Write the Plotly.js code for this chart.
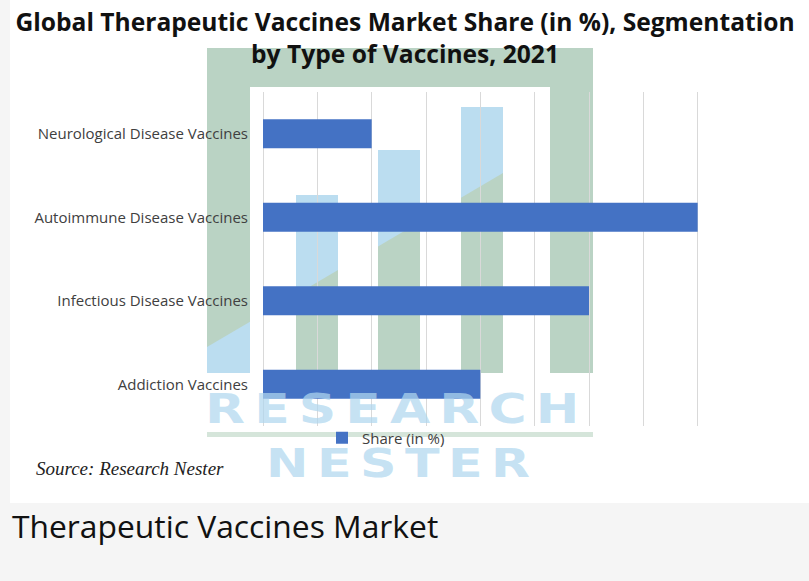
<!DOCTYPE html>
<html>
<head>
<meta charset="utf-8">
<script src="https://cdn.plot.ly/plotly-3.0.1.min.js"></script>
<style>
  html, body { margin:0; padding:0; background:#f5f5f5; width:809px; height:581px; overflow:hidden; }
  #wrap { position:absolute; left:10px; top:0; width:799px; height:503px; background:#fff; }
  #chart { position:absolute; left:0; top:0; width:799px; height:503px; }
  .wm { position:absolute; color:rgba(176,215,239,0.72); font-family:"DejaVu Sans", sans-serif; font-weight:bold; pointer-events:none; white-space:nowrap; transform-origin:0 0; transform:scaleX(1.3); }
  #caption { position:absolute; left:12px; top:504px; font-family:"Open Sans", sans-serif; font-size:31.8px; color:#111; white-space:nowrap; }
</style>
</head>
<body>
<div id="wrap"><div id="chart"></div></div>
<div class="wm" id="wm1" style="left:205px; top:394px; font-size:40px; line-height:30px; letter-spacing:7px;">RESEARCH</div>
<div class="wm" id="wm2" style="left:266px; top:449px; font-size:39px; line-height:29px; letter-spacing:6.5px;">NESTER</div>
<div id="caption">Therapeutic Vaccines Market</div>
<script>
// ---- data ----
const categories = ["Neurological Disease Vaccines", "Autoimmune Disease Vaccines", "Infectious Disease Vaccines", "Addiction Vaccines"];
const shareValues = [10, 40, 30, 20];
const seriesName = "Share (in %)";
const chartTitle = "Global Therapeutic Vaccines Market Share (in %), Segmentation<br>by Type of Vaccines, 2021";
const sourceText = "Source: Research Nester";

// ---- geometry helpers for the watermark (page px -> paper) ----
const DIV_LEFT = 10, DIV_W = 799, DIV_H = 503, ML = 253, MT = 92, PW = 489, PH = 334;
const px = x => (x - DIV_LEFT - ML) / PW;
const py = y => (MT + PH - y) / PH;
const GREEN = "#bad3c4", BLUE = "#bbddf0";
const diag = x => 347 - 0.588 * (x - 207);

const shapes = [];
function rect(x0, y0, x1, y1, c) {
  shapes.push({type:"rect", xref:"paper", yref:"paper", x0:px(x0), x1:px(x1), y0:py(y1), y1:py(y0),
    fillcolor:c, line:{width:0}, layer:"below"});
}
function poly(pts, c) {
  const d = "M" + pts.map(p => px(p[0]) + "," + py(p[1])).join(" L") + " Z";
  shapes.push({type:"path", xref:"paper", yref:"paper", path:d, fillcolor:c, line:{width:0}, layer:"below"});
}
// frame
rect(207, 48, 593, 87, GREEN);
rect(207, 48, 250, 373, GREEN);
rect(550, 48, 593, 373, GREEN);
rect(207, 432, 593, 437, "#d5e5da");
poly([[207, diag(207)], [250, diag(250)], [250, 373], [207, 373]], BLUE);
// columns
[[296, 338, 195], [378, 420, 150], [461, 503, 107]].forEach(b => {
  rect(b[0], b[2], b[1], 373, GREEN);
  poly([[b[0], b[2]], [b[1], b[2]], [b[1], diag(b[1])], [b[0], diag(b[0])]], BLUE);
});

const trace = {
  type: "bar",
  orientation: "h",
  x: shareValues,
  y: categories,
  name: seriesName,
  marker: {color: "#4472c4"},
  hoverinfo: "x+y"
};

const layout = {
  width: DIV_W, height: DIV_H,
  margin: {l: ML, r: DIV_W - ML - PW, t: MT, b: DIV_H - MT - PH},
  paper_bgcolor: "rgba(0,0,0,0)",
  plot_bgcolor: "rgba(0,0,0,0)",
  font: {family: "Open Sans, sans-serif", color: "#404040"},
  title: {
    text: chartTitle,
    x: (405 - DIV_LEFT) / DIV_W, xref: "container", xanchor: "center",
    y: 1 - 30.6 / DIV_H, yref: "container", yanchor: "top",
    font: {family: "Open Sans, sans-serif", size: 24.6, color: "#111", weight: "bold"}
  },
  bargap: 0.65,
  xaxis: {
    range: [0, 45], dtick: 5, tick0: 0,
    showticklabels: false, ticks: "",
    showgrid: true, gridcolor: "#d9d9d9", gridwidth: 1,
    zeroline: true, zerolinecolor: "#d9d9d9", zerolinewidth: 1,
    showline: false, fixedrange: true
  },
  yaxis: {
    type: "category",
    categoryorder: "array", categoryarray: categories,
    autorange: "reversed",
    showgrid: false, zeroline: false, showline: false,
    ticks: "outside", ticklen: 11, tickcolor: "rgba(0,0,0,0)",
    tickfont: {size: 15, color: "#404040"},
    fixedrange: true
  },
  showlegend: true,
  legend: {
    orientation: "h",
    x: px(386), xanchor: "center",
    y: py(438), yanchor: "middle",
    font: {size: 15, color: "#404040"},
    bgcolor: "rgba(0,0,0,0)",
    itemwidth: 30
  },
  shapes: shapes,
  annotations: [{
    text: "<i>" + sourceText + "</i>",
    xref: "paper", yref: "paper",
    x: px(34), xanchor: "left",
    y: py(468), yanchor: "middle",
    showarrow: false,
    font: {family: "Liberation Serif, DejaVu Serif, serif", size: 19, color: "#222"}
  }]
};

Plotly.newPlot("chart", [trace], layout, {displayModeBar: false, staticPlot: true});
</script>
</body>
</html>
